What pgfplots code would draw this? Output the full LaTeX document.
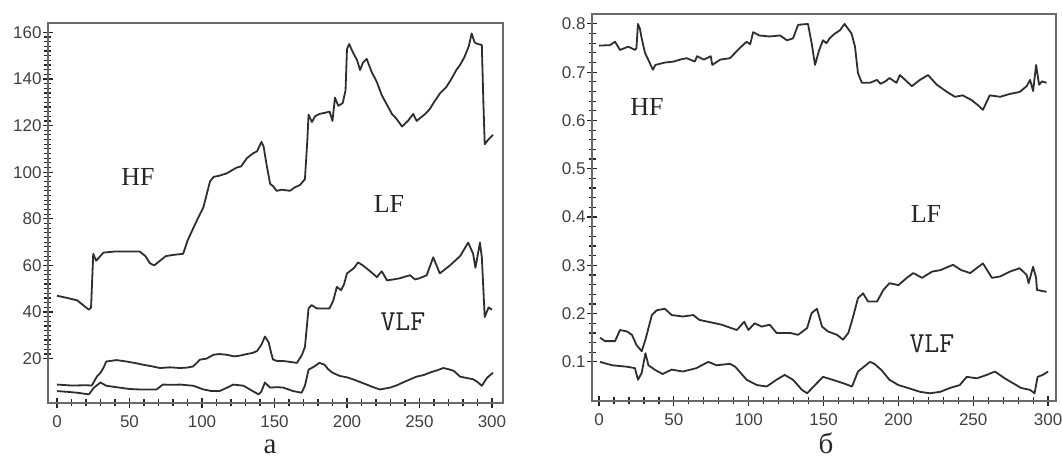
\documentclass[border=0pt]{standalone}
\usepackage{fontspec}
\setmainfont{Liberation Serif}
\setsansfont{Liberation Sans}
\usepackage{pgfplots}
\pgfplotsset{compat=1.18}
\definecolor{curve}{HTML}{2E2E2E}
\definecolor{frame}{HTML}{6A6A6A}
\tikzset{
  lab/.style={font=\fontsize{13}{14}\selectfont, text=black!85},
  vlab/.style={font=\ttfamily\fontsize{14.5}{15}\selectfont, text=black!85},
}
\pgfplotsset{
  panel/.style={
    scale only axis, anchor=north west,
    axis line style={frame, line width=1.1pt},
    tick style={black!85, line width=0.6pt},
    tick align=center, tick pos=left,
    major tick length=5pt, minor tick length=3.5pt,
    xtick={0,50,...,300}, minor x tick num=4,
    ticklabel style={font=\sffamily\fontsize{8.5}{9}\selectfont, text=black!75},
    /pgf/number format/assume math mode=true,
    xticklabel style={yshift=-0.5pt},
    yticklabel style={inner sep=0.5pt},
    cycle list={{curve, mark=none}},
    every axis plot post/.append style={curve, line width=0.9pt, line join=round, mark=none},
    clip=false,
  },
}
\begin{document}
\begin{tikzpicture}
\path[use as bounding box] (0,0) rectangle (531pt,-229.5pt);
% ---------- left panel ----------
\begin{axis}[panel, at={(24pt,-11.5pt)}, width=227.5pt, height=190pt,
  xmin=-6.2, xmax=307.6, ymin=1, ymax=164,
  ytick={20,40,...,160}, minor y tick num=9]
\addplot coordinates {(0,47) (7.6,46) (14,45) (22,41) (23.5,42) (25,65) (27,62) (32,65.5) (40,66) (50,66) (57,66) (61,64) (64,61) (67,60) (71,62) (75,64) (80,64.5) (87,65) (90,70.6) (94,76) (97,80) (101,85) (105.5,96) (108,98) (112,98.5) (117,99.5) (124,102) (127,102.5) (131,106) (135,108) (138,109) (141,113) (142.5,111) (144.6,103) (147,95) (149,94) (151.5,92) (155,92.5) (160.6,92) (164,93.5) (167.6,94.5) (171,97) (172.6,113) (173.5,124.7) (175.8,121.5) (178,124) (181,125) (185,125.5) (188,126) (190,122) (191.7,132) (194,128.5) (197,129.6) (199,135) (200,152.8) (201.5,155) (204,151.5) (207,148) (209,143.8) (211,147) (213.6,148.6) (217,143) (220.6,138.7) (224,133) (227.6,128.9) (231,125) (234,123) (238,119.6) (242,122) (245.7,125) (248,122) (250,123) (254,125) (257,127) (260,130) (264,133.7) (268.6,136.6) (272,140) (275.6,144) (278,146) (281,149.4) (284,154) (286,159.5) (288,155.7) (290,155) (293,154.6) (294,131.5) (295,112) (297.5,114) (300.7,116)};
\addplot coordinates {(0,8.9) (10,8.5) (20,8.6) (24,8.5) (27.5,12.3) (30,14) (32,16) (34,18.8) (41,19.4) (48,18.8) (55,18) (59.5,17.4) (65,16.8) (71,16) (78,16.3) (85,16) (90,16.2) (94,16.7) (98.6,19.6) (103,20) (108,21.7) (112,22) (117,21.7) (122,21) (126,21.3) (131,22) (135,22.5) (138,23.3) (141,26) (143.4,29.5) (146,27) (147.5,23) (149,19.6) (152,19) (156,19) (160,18.7) (165.5,18.2) (169,21.7) (171,25) (173.5,41.6) (175.6,43) (179,41.6) (184,41.5) (188,41.6) (190.6,45) (193,50.8) (196,49.4) (198,52) (200,56.6) (202,57.5) (205,59) (207.6,61.3) (211,60) (216,57.5) (220.6,55) (224,57.5) (227.6,53.6) (232,54) (236.5,54.5) (243.4,55.8) (247,54) (250,54.5) (255,55.8) (259.5,63.5) (264,56.6) (271,60) (278,64) (283.6,69.8) (287,65) (288.6,59) (291.7,69.8) (293,63.5) (294,50.6) (295,37.9) (297.7,42) (300,41)};
\addplot coordinates {(0,6.1) (7,5.8) (14,5.4) (22,4.7) (25.5,7.6) (30,9.8) (34,8.4) (43,7.6) (50,7) (57,6.8) (68.7,6.8) (73,8.9) (80,8.8) (85,8.9) (94,8.4) (101,6.8) (106,6.2) (112,6.1) (117,7.5) (121.6,8.9) (128.7,8.4) (135,6.1) (139,4.7) (141,6) (143.4,9.8) (147,7.6) (152,7.8) (156,7.6) (163,6.1) (168.7,5.4) (171,8.4) (173.5,15.3) (177,16.5) (181,18.2) (184.6,17.4) (187,15.5) (190,14) (195,12.6) (200,12) (204,11.2) (209,10) (213.6,8.9) (218,7.8) (222.8,6.8) (229.7,7.6) (234,8.5) (238.6,9.8) (243,11) (248,12.3) (253,13) (257,14) (262,15) (266.5,16) (270,15.5) (273.6,14.8) (278,12.3) (282,11.8) (287,11.2) (290,10) (293,8.4) (296.6,11.8) (300.7,14)};
\node[lab] at (axis cs:55.9,98) {HF};
\node[lab] at (axis cs:229,86.5) {LF};
\node[vlab] at (axis cs:238.6,35.9) {VLF};
\end{axis}
% ---------- right panel ----------
\begin{axis}[panel, at={(296pt,-7pt)}, width=232pt, height=193.5pt,
  xmin=-4.7, xmax=305.3, ymin=0.019, ymax=0.8205,
  ytick={0.1,0.2,...,0.8}, minor y tick num=4,
  yticklabel style={/pgf/number format/.cd, fixed, fixed zerofill, precision=1}]
\addplot coordinates {(0,0.755) (7.3,0.756) (10.7,0.763) (14,0.746) (19.6,0.753) (24,0.746) (25,0.75) (26,0.80) (27.3,0.79) (28.5,0.77) (30.7,0.74) (33,0.725) (36,0.705) (37.6,0.715) (44,0.72) (50,0.722) (54,0.726) (58.5,0.729) (64,0.722) (65.5,0.733) (70,0.726) (74.6,0.733) (75.7,0.715) (81,0.726) (87.5,0.729) (94,0.75) (98.6,0.763) (101,0.758) (103,0.783) (107,0.776) (114,0.774) (121,0.776) (125.5,0.766) (129.6,0.77) (133,0.798) (139.6,0.80) (142,0.761) (144.3,0.715) (147,0.745) (149.6,0.766) (152,0.76) (154,0.77) (157.6,0.78) (161,0.787) (164,0.80) (168.7,0.78) (171,0.753) (173,0.698) (175.6,0.678) (181,0.678) (185.7,0.684) (188,0.676) (191.4,0.681) (194,0.688) (198.7,0.678) (201,0.694) (205.6,0.681) (209,0.671) (214.4,0.684) (219.8,0.694) (225.7,0.674) (232.5,0.659) (237.8,0.649) (243,0.652) (249,0.642) (253,0.632) (256.5,0.622) (261,0.652) (268,0.649) (274.5,0.655) (281,0.659) (285.7,0.671) (288,0.684) (290,0.661) (292,0.715) (294,0.674) (296,0.681) (299,0.678)};
\addplot coordinates {(0.7,0.150) (4,0.143) (10.7,0.143) (14,0.166) (18.7,0.163) (22,0.156) (25,0.135) (28.5,0.122) (31,0.146) (35.3,0.197) (38.6,0.207) (44,0.21) (48.5,0.197) (56,0.194) (63,0.197) (67,0.187) (73,0.183) (82,0.177) (92,0.166) (97,0.183) (99.8,0.166) (104,0.180) (108.6,0.173) (114,0.177) (118.6,0.16) (127.6,0.16) (133,0.156) (139,0.17) (142,0.201) (145.6,0.21) (149,0.173) (153,0.163) (159,0.156) (163,0.146) (166.6,0.16) (169.7,0.193) (173,0.232) (176.4,0.242) (179.7,0.225) (185.7,0.225) (190,0.249) (194,0.263) (200,0.259) (205.6,0.274) (210,0.284) (215.8,0.274) (222.5,0.287) (228,0.29) (236.5,0.301) (242,0.29) (248,0.284) (256.5,0.304) (262.5,0.274) (268,0.277) (274.5,0.287) (281,0.294) (285.7,0.28) (287,0.263) (290,0.297) (292,0.274) (292.6,0.249) (299,0.245)};
\addplot coordinates {(0.7,0.10) (8.7,0.093) (18.7,0.09) (24,0.087) (26,0.063) (28.5,0.077) (31,0.118) (33,0.093) (37.6,0.083) (42.5,0.075) (48.5,0.084) (56,0.08) (65,0.087) (73,0.10) (78.5,0.093) (87.5,0.096) (91,0.09) (98.6,0.063) (105.5,0.052) (112,0.049) (118.6,0.063) (124,0.073) (129.6,0.063) (135.6,0.042) (139,0.035) (144.3,0.052) (149.6,0.069) (156,0.063) (163,0.056) (169,0.049) (173,0.08) (181,0.1) (184,0.096) (188.7,0.083) (194,0.063) (200,0.052) (206.4,0.046) (214.4,0.038) (221,0.035) (228,0.038) (234.5,0.046) (241,0.052) (245.7,0.069) (252.5,0.066) (259,0.073) (264.5,0.08) (271,0.066) (276.5,0.056) (282,0.046) (288,0.042) (291,0.035) (293,0.069) (296.4,0.073) (300,0.08)};
\node[lab] at (axis cs:32,0.628) {HF};
\node[lab] at (axis cs:218.4,0.406) {LF};
\node[vlab] at (axis cs:222.4,0.137) {VLF};
\end{axis}
% panel letters
\node[font=\fontsize{14.5}{15}\selectfont, text=black!85, anchor=base, inner sep=0pt] at (135pt,-227pt) {а};
\node[font=\fontsize{14.5}{15}\selectfont, text=black!85, anchor=base, inner sep=0pt] at (413pt,-227pt) {б};
\end{tikzpicture}
\end{document}
